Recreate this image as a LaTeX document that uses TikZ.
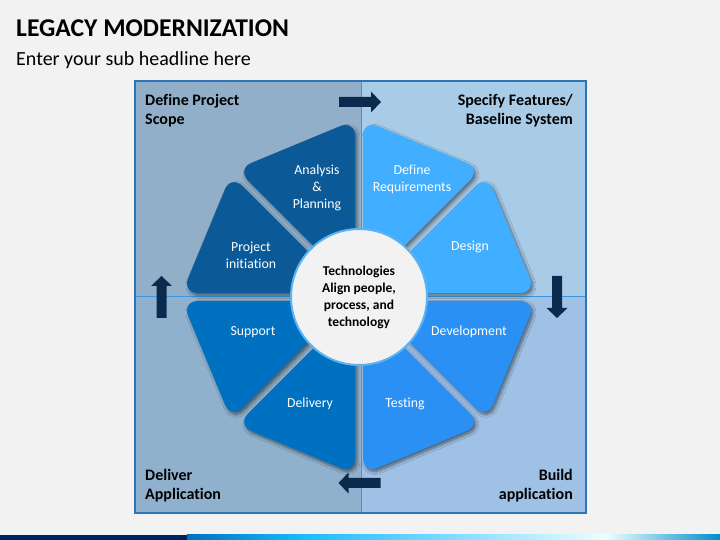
\documentclass[tikz,border=0pt]{standalone}
\usepackage{fontspec}
\setmainfont{Carlito}[Ligatures={NoCommon}]
\usetikzlibrary{calc,shadows.blur}
\definecolor{bgc}{HTML}{F2F2F2}
\definecolor{qTL}{HTML}{91AFC9}
\definecolor{qTR}{HTML}{A8CBE7}
\definecolor{qBL}{HTML}{8FB1CD}
\definecolor{qBR}{HTML}{9FC1E5}
\definecolor{pDark}{HTML}{0B5A97}
\definecolor{pMid}{HTML}{0070C0}
\definecolor{pLight}{HTML}{42AEFF}
\definecolor{pBright}{HTML}{2B90F4}
\definecolor{arrowc}{HTML}{0C2A4E}
\definecolor{circb}{HTML}{5CB3F2}
\definecolor{borderc}{HTML}{2E75B6}
\definecolor{divc}{HTML}{3C96E0}
\definecolor{navyc}{HTML}{002060}
\tikzset{
  piece/.style={rounded corners=16pt, blur shadow={shadow xshift=2pt, shadow yshift=-2.5pt, shadow blur radius=3pt, shadow blur steps=8, shadow opacity=50}},
  plabel/.style={text=white, font=\fontsize{13.8}{17}\selectfont, align=center, inner sep=0},
  qlabel/.style={font=\fontsize{16}{19}\selectfont\bfseries, inner sep=0},
  blockarrow/.pic={\fill[arrowc] (-21,-5) -- (11,-5) -- (11,-10.5) -- (21,0) -- (11,10.5) -- (11,5) -- (-21,5) -- cycle;}
}
\begin{document}
\begin{tikzpicture}[x=1pt,y=1pt]
\useasboundingbox (0,0) rectangle (720,540);
\fill[bgc] (0,0) rectangle (720,540);
% title
\node[anchor=base west, inner sep=0, font=\fontsize{25.6}{30}\selectfont\bfseries] (title) at (16,503) {LEGACY MODERNIZATION};
\node[anchor=base west, inner sep=0, font=\fontsize{20}{24}\selectfont] (sub) at (16,474) {Enter your sub headline here};
% quadrants
\fill[qTL] (135,459) rectangle (361,243);
\fill[qTR] (361,459) rectangle (586,243);
\fill[qBL] (135,243) rectangle (361,27);
\fill[qBR] (361,243) rectangle (586,27);
\draw[divc, line width=1pt] (361,27) -- (361,459);
\draw[divc, line width=1pt] (135,243) -- (586,243);
\draw[borderc, line width=1.2pt] (135,27) rectangle (586,459);
% pieces
\coordinate (C) at (359,243);
\foreach \a/\c in {0/pLight,45/pLight,90/pDark,135/pDark,180/pMid,225/pMid,270/pBright,315/pBright}{
  \fill[\c, piece] ($(C)+(\a+22.5:10.5)$) -- ($(C)+(\a+1.3:177)$) -- ($(C)+(\a+43.7:177)$) -- cycle;
}
% hub
\node[circle, fill=bgc, draw=circb, line width=2pt, minimum size=136pt, inner sep=0, align=center, font=\fontsize{13.5}{17}\selectfont\bfseries] (hub) at (C) {Technologies\\Align people,\\process, and\\technology};
% piece labels
\node[plabel] (lAP) at (317,352) {Analysis\\\&\\Planning};
\node[plabel] (lPI) at (251,285) {Project\\initiation};
\node[plabel] (lDR) at (412,361) {Define\\Requirements};
\node[plabel] (lDe) at (470,293.3) {Design};
\node[plabel] (lDv) at (469,208.3) {Development};
\node[plabel] (lTe) at (405,135.7) {Testing};
\node[plabel] (lSu) at (253,208.3) {Support};
\node[plabel] (lDl) at (310,135.7) {Delivery};
% quadrant labels (base = last line)
\node[qlabel, anchor=base west, align=left] (qtl) at (145,415.5) {Define Project\\Scope};
\node[qlabel, anchor=base east, align=right] (qtr) at (573,415.3) {Specify Features/\\Baseline System};
\node[qlabel, anchor=base west, align=left] (qbl) at (145,40.5) {Deliver\\Application};
\node[qlabel, anchor=base east, align=right] (qbr) at (573,40.5) {Build\\application};
% arrows
\pic at (360,438) {blockarrow};
\pic[rotate=-90] at (557,243) {blockarrow};
\pic[rotate=180] at (359.5,57) {blockarrow};
\pic[rotate=90] at (161.5,243) {blockarrow};
% bottom strip
\fill[navyc] (0,0) rectangle (187,5);
\shade[left color=pMid, right color=cyan!70!blue!90!white] (187,0) rectangle (303,5);
\shade[left color=cyan!70!blue!90!white, right color=white!92!cyan] (303,0) rectangle (606,5);
\shade[left color=white!92!cyan, right color=pMid!80!cyan] (606,0) rectangle (720,5);
\end{tikzpicture}
\end{document}
